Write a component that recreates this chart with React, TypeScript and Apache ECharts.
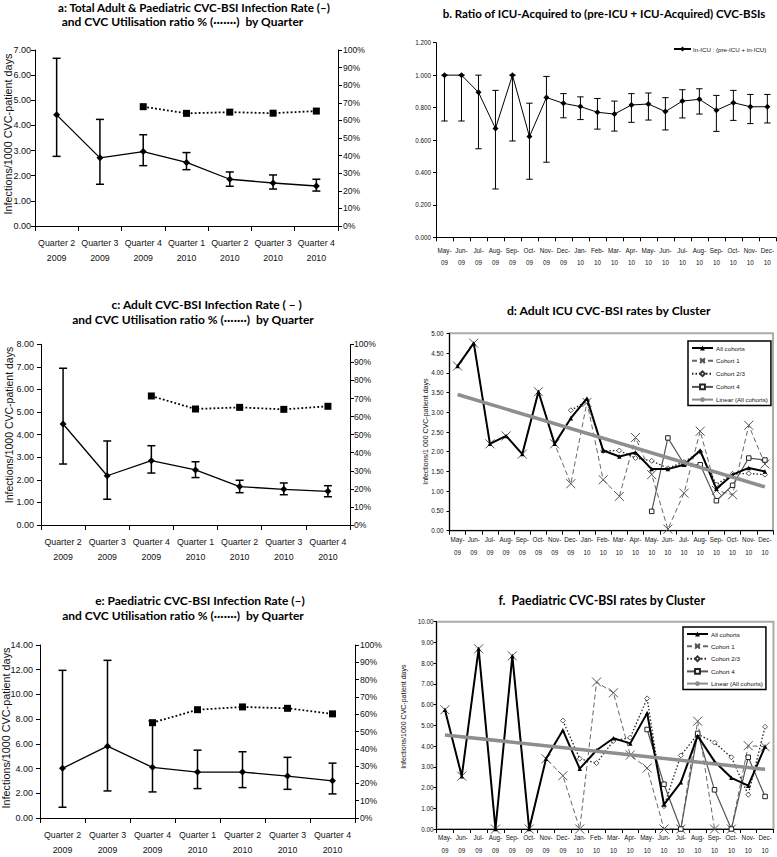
import React, { useEffect, useRef } from "react";
import * as echarts from "echarts";

// ---------- categories ----------
const quarterLabels = [
  "Quarter 2\n2009", "Quarter 3\n2009", "Quarter 4\n2009", "Quarter 1\n2010",
  "Quarter 2\n2010", "Quarter 3\n2010", "Quarter 4\n2010",
];
const monthLabels = [
  "May-\n09", "Jun-\n09", "Jul-\n09", "Aug-\n09", "Sep-\n09", "Oct-\n09", "Nov-\n09", "Dec-\n09",
  "Jan-\n10", "Feb-\n10", "Mar-\n10", "Apr-\n10", "May-\n10", "Jun-\n10", "Jul-\n10", "Aug-\n10",
  "Sep-\n10", "Oct-\n10", "Nov-\n10", "Dec-\n10",
];

// ---------- panel a ----------
const aRate = [4.42, 2.71, 2.96, 2.53, 1.86, 1.71, 1.59];
const aLow = [2.77, 1.66, 2.40, 2.24, 1.58, 1.47, 1.39];
const aHigh = [6.67, 4.24, 3.63, 2.92, 2.15, 2.03, 1.86];
const aUtil = [null, null, 67.8, 64.0, 64.7, 64.1, 65.3];

// ---------- panel b ----------
const bRatio = [1.0, 1.0, 0.894, 0.671, 1.0, 0.621, 0.862, 0.826, 0.806, 0.771, 0.760, 0.816, 0.822, 0.775, 0.840, 0.851, 0.783, 0.830, 0.805, 0.805];
const bLow = [0.717, 0.717, 0.546, 0.298, 0.594, 0.358, 0.463, 0.737, 0.726, 0.667, 0.655, 0.709, 0.723, 0.662, 0.736, 0.760, 0.653, 0.721, 0.701, 0.705];
const bHigh = [1.0, 1.0, 1.0, 0.906, 1.0, 0.827, 0.992, 0.886, 0.866, 0.856, 0.840, 0.886, 0.890, 0.861, 0.910, 0.916, 0.875, 0.906, 0.881, 0.881];

// ---------- panel c ----------
const cRate = [4.47, 2.18, 2.85, 2.44, 1.70, 1.58, 1.49];
const cLow = [2.70, 1.14, 2.30, 2.10, 1.43, 1.34, 1.25];
const cHigh = [6.94, 3.72, 3.51, 2.80, 1.98, 1.86, 1.74];
const cUtil = [null, null, 71.4, 64.2, 65.1, 64.0, 65.7];

// ---------- panel d ----------
const dAll = [4.17, 4.75, 2.20, 2.40, 1.94, 3.52, 2.20, 2.85, 3.35, 2.03, 1.88, 1.98, 1.56, 1.56, 1.67, 2.03, 1.06, 1.42, 1.59, 1.50];
const dCohort1 = [4.17, 4.75, 2.20, 2.40, 1.94, 3.52, 2.20, 1.19, 3.25, 1.29, 0.87, 2.36, 1.42, 0.04, 0.95, 2.52, 1.02, 0.91, 2.67, 1.69];
const dCohort23 = [null, null, null, null, null, null, null, 3.05, 3.28, 2.02, 2.03, 1.84, 1.77, 1.58, 1.74, 2.00, 1.17, 1.44, 1.45, 1.42];
const dCohort4 = [null, null, null, null, null, null, null, null, null, null, null, null, 0.49, 2.35, 1.69, 1.67, 0.76, 1.15, 1.84, 1.79];
const dTrendEnds = [3.45, 1.11];

// ---------- panel e ----------
const eRate = [4.02, 5.81, 4.10, 3.72, 3.72, 3.39, 3.01];
const eLow = [0.87, 2.19, 2.11, 2.38, 2.46, 2.32, 1.95];
const eHigh = [11.95, 12.76, 7.87, 5.49, 5.36, 4.91, 4.44];
const eUtil = [null, null, 55.1, 62.6, 64.2, 63.4, 60.2];

// ---------- panel f ----------
const fAll = [5.75, 2.55, 8.69, 0, 8.35, 0, 3.39, 4.76, 2.91, 3.80, 4.38, 4.13, 5.59, 1.18, 2.25, 4.49, 3.26, 2.47, 2.09, 3.98];
const fCohort1 = [5.75, 2.55, 8.69, 0, 8.35, 0, 3.39, 2.57, 0, 7.09, 6.57, 3.57, 2.94, 0, 0, 5.20, 0, 0, 4.02, 3.97];
const fCohort23 = [null, null, null, null, null, null, null, 5.23, 3.39, 3.18, 4.25, 4.41, 6.30, 1.10, 3.55, 4.57, 4.17, 3.46, 1.65, 4.93];
const fCohort4 = [null, null, null, null, null, null, null, null, null, null, null, null, 4.80, 2.16, 0, 4.61, 1.89, 0, 3.46, 1.57];
const fTrendEnds = [4.54, 2.88];

const cohortNames = ["All cohorts", "Cohort 1", "Cohort 2/3", "Cohort 4", "Linear (All cohorts)"];
const bLegendName = "In-ICU : (pre-ICU + in-ICU)";

const SANS = "'Liberation Sans', Arial, sans-serif";
const TFONT = "Lato, 'Open Sans', sans-serif";

function trendData(ends: number[], n: number) {
  const arr: (number | null)[] = new Array(n).fill(null);
  arr[0] = ends[0];
  arr[n - 1] = ends[1];
  return arr;
}

function errorBarSeries(xAxisIndex: number, yAxisIndex: number, lows: number[], highs: number[], cap: number, lw: number) {
  return {
    type: "custom",
    xAxisIndex,
    yAxisIndex,
    silent: true,
    z: 3,
    data: lows.map((l, i) => [i, l, highs[i]]),
    encode: { x: 0, y: [1, 2] },
    renderItem: (params: any, api: any) => {
      const x = api.value(0);
      const lo = api.coord([x, api.value(1)]);
      const hi = api.coord([x, api.value(2)]);
      const style = { stroke: "#000", lineWidth: lw, fill: "none" };
      return {
        type: "group",
        children: [
          { type: "line", shape: { x1: lo[0], y1: lo[1], x2: hi[0], y2: hi[1] }, style },
          { type: "line", shape: { x1: lo[0] - cap, y1: lo[1], x2: lo[0] + cap, y2: lo[1] }, style },
          { type: "line", shape: { x1: hi[0] - cap, y1: hi[1], x2: hi[0] + cap, y2: hi[1] }, style },
        ],
      };
    },
  };
}

function catAxis(gridIndex: number, labels: string[], fontSize: number, lineHeight: number, margin: number, tickLen: number) {
  return {
    type: "category",
    gridIndex,
    data: labels,
    boundaryGap: true,
    axisLine: { show: true, onZero: false, lineStyle: { color: "#000", width: 1 } },
    axisTick: { show: true, length: tickLen, lineStyle: { color: "#000" } },
    axisLabel: { interval: 0, fontSize, lineHeight, margin, color: "#111", fontFamily: SANS },
    splitLine: { show: false },
  };
}

function valAxis(gridIndex: number, min: number, max: number, interval: number, fmt: (v: number) => string, fontSize: number, margin: number, position = "left", tickLen = 4) {
  return {
    type: "value",
    gridIndex,
    min,
    max,
    interval,
    position,
    axisLine: { show: true, lineStyle: { color: "#000", width: 1 } },
    axisTick: { show: true, length: tickLen, lineStyle: { color: "#000" } },
    axisLabel: { formatter: fmt, fontSize, margin, color: "#111", fontFamily: SANS },
    splitLine: { show: false },
  };
}

const f2 = (v: number) => v.toFixed(2);
const f3 = (v: number) => v.toFixed(3);
const pct = (v: number) => `${v}%`;

function rateSeries(x: number, y: number, data: number[]) {
  return {
    type: "line",
    xAxisIndex: x,
    yAxisIndex: y,
    data,
    symbol: "diamond",
    symbolSize: 7,
    itemStyle: { color: "#000" },
    lineStyle: { color: "#000", width: 1.3 },
    z: 4,
  };
}

function utilSeries(x: number, y: number, data: (number | null)[]) {
  return {
    type: "line",
    xAxisIndex: x,
    yAxisIndex: y,
    data,
    symbol: "rect",
    symbolSize: 7,
    itemStyle: { color: "#000" },
    lineStyle: { color: "#000", width: 1.8, type: [1.8, 2.2] },
    z: 4,
  };
}

const X_PATH = "path://M0,0L10,10M10,0L0,10";

function clusterSeries(x: number, y: number, all: number[], c1: number[], c23: (number | null)[], c4: (number | null)[], ends: number[]) {
  return [
    {
      name: "Cohort 1", type: "line", xAxisIndex: x, yAxisIndex: y, data: c1,
      symbol: X_PATH, symbolSize: 9,
      itemStyle: { color: "transparent", borderColor: "#555", borderWidth: 1 },
      lineStyle: { color: "#666", width: 1, type: [5, 3] }, z: 3,
    },
    {
      name: "Cohort 2/3", type: "line", xAxisIndex: x, yAxisIndex: y, data: c23,
      symbol: "diamond", symbolSize: 5,
      itemStyle: { color: "#fff", borderColor: "#333", borderWidth: 0.8 },
      lineStyle: { color: "#222", width: 1.3, type: [1.5, 2] }, z: 3,
    },
    {
      name: "Cohort 4", type: "line", xAxisIndex: x, yAxisIndex: y, data: c4,
      symbol: "rect", symbolSize: 4.5,
      itemStyle: { color: "#fff", borderColor: "#222", borderWidth: 1 },
      lineStyle: { color: "#555", width: 1.2 }, z: 3,
    },
    {
      name: "All cohorts", type: "line", xAxisIndex: x, yAxisIndex: y, data: all,
      symbol: "triangle", symbolSize: 4.5,
      itemStyle: { color: "#000" },
      lineStyle: { color: "#000", width: 2 }, z: 4,
    },
    {
      name: "Linear (All cohorts)", type: "line", xAxisIndex: x, yAxisIndex: y,
      data: trendData(ends, all.length), connectNulls: true, symbol: "none",
      lineStyle: { color: "#8e8e8e", width: 3.5 }, itemStyle: { color: "#8e8e8e" }, z: 5,
    },
  ];
}

function titleText(text: string, x: number, y: number, size: number) {
  return {
    type: "text", x, y,
    style: {
      text, fill: "#000", fontSize: size, fontWeight: "bold", fontFamily: TFONT,
      align: "center", verticalAlign: "middle", textAlign: "center", textVerticalAlign: "middle",
    },
  };
}

function yName(text: string, x: number, y: number, size: number) {
  return {
    type: "text", x, y, rotation: Math.PI / 2,
    style: {
      text, fill: "#111", fontSize: size, fontFamily: SANS,
      align: "center", verticalAlign: "middle", textAlign: "center", textVerticalAlign: "middle",
    },
  };
}

function clusterLegend(left: number, top: number, gap: number) {
  return {
    orient: "vertical", left, top,
    data: cohortNames,
    padding: [4, 3, 3, 3],
    itemGap: gap,
    itemWidth: 21,
    itemHeight: 6,
    borderColor: "#000",
    borderWidth: 1.5,
    backgroundColor: "#fff",
    selectedMode: false,
    textStyle: { fontSize: 6.2, fontFamily: SANS, color: "#111", padding: [0, 0, 0, -2] },
  };
}

export default function App() {
  const ref = useRef<HTMLDivElement>(null);
  useEffect(() => {
    document.body.style.margin = "0";
    if (!ref.current) return;
    const chart = echarts.init(ref.current, undefined, { renderer: "svg" });
    const option: any = {
      animation: false,
      backgroundColor: "#fff",
      grid: [
        { left: 35, top: 50, width: 303, height: 176 },
        { left: 436, top: 42.7, width: 340, height: 194.6 },
        { left: 41, top: 344.3, width: 309, height: 180.7 },
        { left: 449.5, top: 333.3, width: 323.5, height: 197.4, show: true, borderColor: "#aaa", borderWidth: 2 },
        { left: 40, top: 645, width: 315, height: 176.7 },
        { left: 436.5, top: 621.7, width: 337, height: 211.6, show: true, borderColor: "#aaa", borderWidth: 2 },
      ],
      xAxis: [
        catAxis(0, quarterLabels, 8.8, 15, 9, 5),
        catAxis(1, monthLabels, 6.3, 12, 7, 4),
        catAxis(2, quarterLabels, 8.8, 15, 9, 5),
        catAxis(3, monthLabels, 6.3, 13, 2, 4),
        catAxis(4, quarterLabels, 8.8, 15, 9, 5),
        catAxis(5, monthLabels, 6.3, 13, 2, 4),
      ],
      yAxis: [
        valAxis(0, 0, 7, 1, f2, 9, 4),
        valAxis(0, 0, 100, 10, pct, 8.6, 5, "right"),
        valAxis(1, 0, 1.2, 0.2, f3, 6.3, 5, "left", 3),
        valAxis(2, 0, 8, 1, f2, 9, 7),
        valAxis(2, 0, 100, 10, pct, 8.6, 4, "right"),
        valAxis(3, 0, 5, 0.5, f2, 6.3, 6, "left", 3),
        valAxis(4, 0, 14, 2, f2, 9, 7),
        valAxis(4, 0, 100, 10, pct, 8.6, 5, "right"),
        valAxis(5, 0, 10, 1, f2, 6.3, 3, "left", 3),
      ],
      legend: [
        clusterLegend(688, 341, 6.3),
        clusterLegend(683, 627, 5.8),
        {
          left: 673, top: 46, data: [bLegendName], itemWidth: 17, itemHeight: 6, padding: 0,
          selectedMode: false,
          textStyle: { fontSize: 6.2, fontFamily: SANS, color: "#111", padding: [0, 0, 0, -3] },
        },
      ],
      series: [
        // a
        errorBarSeries(0, 0, aLow, aHigh, 4, 1.5),
        rateSeries(0, 0, aRate),
        utilSeries(0, 1, aUtil),
        // b
        errorBarSeries(1, 2, bLow, bHigh, 3.2, 1),
        {
          name: bLegendName, type: "line", xAxisIndex: 1, yAxisIndex: 2, data: bRatio,
          symbol: "diamond", symbolSize: 6, itemStyle: { color: "#000" },
          lineStyle: { color: "#000", width: 1 }, z: 4,
        },
        // c
        errorBarSeries(2, 3, cLow, cHigh, 4, 1.5),
        rateSeries(2, 3, cRate),
        utilSeries(2, 4, cUtil),
        // d
        ...clusterSeries(3, 5, dAll, dCohort1, dCohort23, dCohort4, dTrendEnds),
        // e
        errorBarSeries(4, 6, eLow, eHigh, 4, 1.5),
        rateSeries(4, 6, eRate),
        utilSeries(4, 7, eUtil),
        // f
        ...clusterSeries(5, 8, fAll, fCohort1, fCohort23, fCohort4, fTrendEnds),
      ],
      graphic: [
        titleText("a: Total Adult & Paediatric CVC-BSI Infection Rate (–)", 194, 7, 11.6),
        titleText("and CVC Utilisation ratio % (·······)  by Quarter", 182.5, 21, 12),
        titleText("b. Ratio of ICU-Acquired to (pre-ICU + ICU-Acquired) CVC-BSIs", 604, 13, 11.5),
        titleText("c: Adult CVC-BSI Infection Rate ( – )", 206.7, 304.3, 12),
        titleText("and CVC Utilisation ratio % (·······)  by Quarter", 193, 319, 12),
        titleText("d: Adult ICU CVC-BSI rates by Cluster", 608.7, 310.7, 12.2),
        titleText("e: Paediatric CVC-BSI Infection Rate (–)", 200, 600.7, 12),
        titleText("and CVC Utilisation ratio % (·······)  by Quarter", 183, 615.7, 12),
        titleText("f.  Paediatric CVC-BSI rates by Cluster", 601.7, 600, 12.3),
        yName("Infections/1000 CVC-patient days", 8, 134, 10.8),
        yName("Infections/1000 CVC-patient days", 9, 425, 10.5),
        yName("Infections/1000 CVC-patient days", 5.5, 728, 10.8),
        yName("Infections/1 000 CVC-patient days", 425, 431.7, 7),
        yName("Infections/1000 CVC-patient days", 403.3, 716.7, 7),
      ],
    };
    chart.setOption(option);
    return () => chart.dispose();
  }, []);
  return <div ref={ref} style={{ width: 777, height: 857, background: "#fff" }} />;
}
